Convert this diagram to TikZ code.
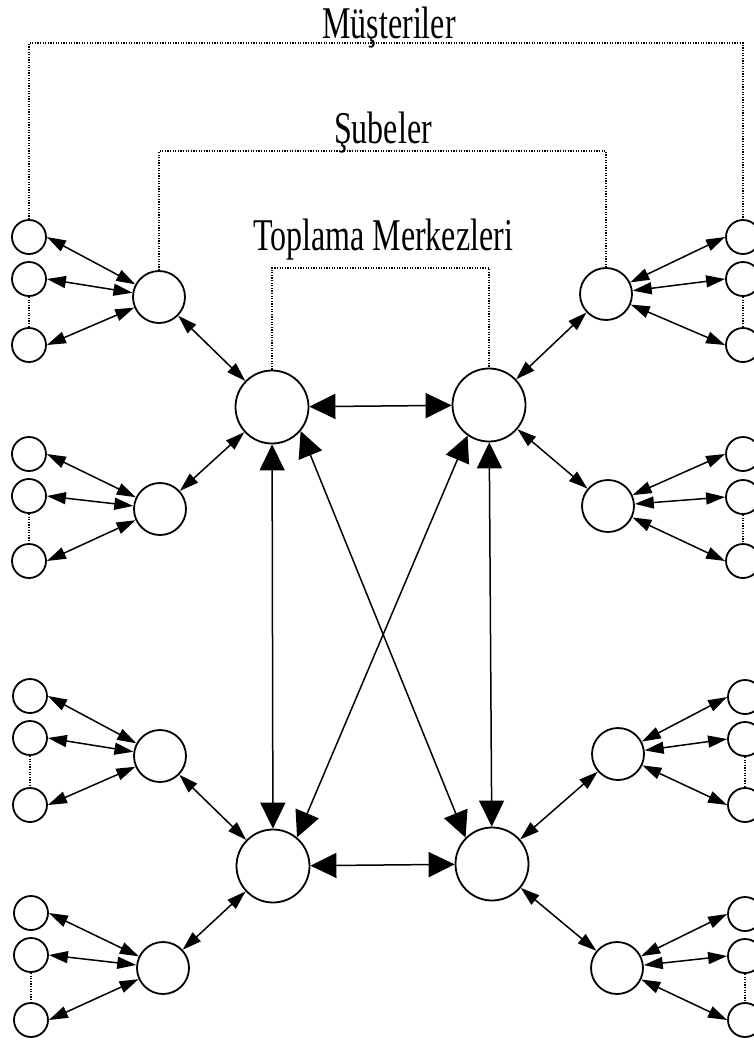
\documentclass[tikz,border=0pt]{standalone}
\usepackage{fontspec}
\setmainfont{Liberation Serif}
\usepackage{graphicx}
\usepackage{tikz}
\usetikzlibrary{arrows.meta}

\tikzset{
  cust/.style={circle, draw, line width=1.8pt, inner sep=0pt, minimum size=34pt},
  branch/.style={circle, draw, line width=1.8pt, inner sep=0pt, minimum size=52pt},
  hub/.style={circle, draw, line width=1.8pt, inner sep=0pt, minimum size=73pt},
  link/.style={line width=1.5pt, {Triangle[length=19pt,width=12pt]}-{Triangle[length=19pt,width=12pt]}},
  trunk/.style={line width=1.5pt, {Triangle[length=26pt,width=25pt]}-{Triangle[length=26pt,width=25pt]}},
  dots/.style={line width=1.2pt, dash pattern=on 1.2pt off 1.4pt},
  lbl/.style={font=\fontsize{32}{36}\selectfont, inner sep=0pt, anchor=base}
}

\begin{document}
\begin{tikzpicture}[x=1pt, y=-1pt]
  \useasboundingbox (0,0) rectangle (754,1042);

  \node[lbl] (musteri) at (389,38) {\scalebox{1}[1.42]{Müşteriler}};
  \node[lbl] (sube) at (383,143) {\scalebox{1}[1.42]{Şubeler}};
  \node[lbl] (toplama) at (383,250) {\scalebox{1}[1.42]{Toplama Merkezleri}};
  \coordinate (mtop) at (389,43);
  \coordinate (stop) at (383,151);
  \coordinate (ttop) at (383,268);

  \node[hub] (t1) at (272,407) {};
  \node[hub] (t2) at (489,405) {};
  \node[hub] (t3) at (273,866) {};
  \node[hub] (t4) at (492,864) {};

  \node[branch] (sl1) at (159,297) {};
  \node[branch] (sl2) at (160,509) {};
  \node[branch] (sl3) at (160,756) {};
  \node[branch] (sl4) at (163,968) {};
  \node[branch] (sr1) at (606,294) {};
  \node[branch] (sr2) at (608,506) {};
  \node[branch] (sr3) at (618,754) {};
  \node[branch] (sr4) at (617,968) {};

  \node[cust] (ml1) at (29,237) {};
  \node[cust] (ml2) at (29,279) {};
  \node[cust] (ml3) at (29,345) {};
  \node[cust] (ml4) at (29,454) {};
  \node[cust] (ml5) at (29,496) {};
  \node[cust] (ml6) at (29,561) {};
  \node[cust] (ml7) at (30,696) {};
  \node[cust] (ml8) at (30,738) {};
  \node[cust] (ml9) at (30,805) {};
  \node[cust] (ml10) at (31,913) {};
  \node[cust] (ml11) at (31,955) {};
  \node[cust] (ml12) at (31,1020) {};
  \node[cust] (mr1) at (743,237) {};
  \node[cust] (mr2) at (743,279) {};
  \node[cust] (mr3) at (743,345) {};
  \node[cust] (mr4) at (743,454) {};
  \node[cust] (mr5) at (743,497) {};
  \node[cust] (mr6) at (743,561) {};
  \node[cust] (mr7) at (745,697) {};
  \node[cust] (mr8) at (745,739) {};
  \node[cust] (mr9) at (745,805) {};
  \node[cust] (mr10) at (745,914) {};
  \node[cust] (mr11) at (745,956) {};
  \node[cust] (mr12) at (745,1020) {};

  \draw[dots] (ml1.north) |- (mtop) -| (mr1.north);
  \draw[dots] (sl1.north) |- (stop) -| (sr1.north);
  \draw[dots] (t1.north) |- (ttop) -| (t2.north);
  \draw[dots] (ml2) -- (ml3);
  \draw[dots] (ml5) -- (ml6);
  \draw[dots] (ml8) -- (ml9);
  \draw[dots] (ml11) -- (ml12);
  \draw[dots] (mr2) -- (mr3);
  \draw[dots] (mr5) -- (mr6);
  \draw[dots] (mr8) -- (mr9);
  \draw[dots] (mr11) -- (mr12);

  \draw[link] (ml1.east) -- (sl1);
  \draw[link] (ml2.east) -- (sl1);
  \draw[link] (ml3.east) -- (sl1);
  \draw[link] (ml4.east) -- (sl2);
  \draw[link] (ml5.east) -- (sl2);
  \draw[link] (ml6.east) -- (sl2);
  \draw[link] (ml7.east) -- (sl3);
  \draw[link] (ml8.east) -- (sl3);
  \draw[link] (ml9.east) -- (sl3);
  \draw[link] (ml10.east) -- (sl4);
  \draw[link] (ml11.east) -- (sl4);
  \draw[link] (ml12.east) -- (sl4);
  \draw[link] (mr1.west) -- (sr1);
  \draw[link] (mr2.west) -- (sr1);
  \draw[link] (mr3.west) -- (sr1);
  \draw[link] (mr4.west) -- (sr2);
  \draw[link] (mr5.west) -- (sr2);
  \draw[link] (mr6.west) -- (sr2);
  \draw[link] (mr7.west) -- (sr3);
  \draw[link] (mr8.west) -- (sr3);
  \draw[link] (mr9.west) -- (sr3);
  \draw[link] (mr10.west) -- (sr4);
  \draw[link] (mr11.west) -- (sr4);
  \draw[link] (mr12.west) -- (sr4);

  \draw[link] (sl1) -- (t1);
  \draw[link] (sl2) -- (t1);
  \draw[link] (sl3) -- (t3);
  \draw[link] (sl4) -- (t3);
  \draw[link] (sr1) -- (t2);
  \draw[link] (sr2) -- (t2);
  \draw[link] (sr3) -- (t4);
  \draw[link] (sr4) -- (t4);

  \draw[trunk] (t1) -- (t2);
  \draw[trunk] (t3) -- (t4);
  \draw[trunk] (t1) -- (t3);
  \draw[trunk] (t2) -- (t4);
  \draw[trunk] (t1.-40) -- (t4.135);
  \draw[trunk] (t2.-125) -- (t3.50);
\end{tikzpicture}
\end{document}
